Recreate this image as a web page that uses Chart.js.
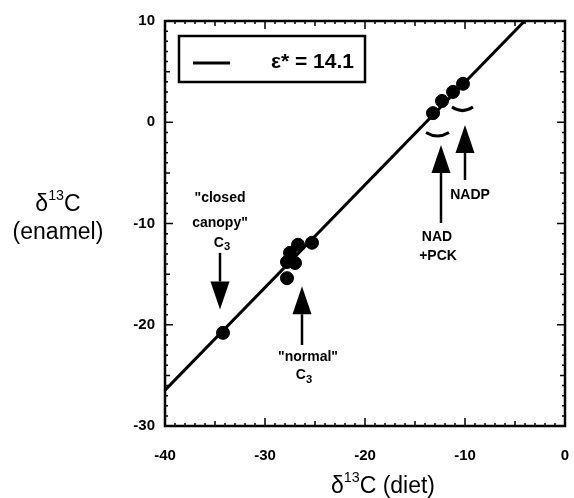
<!DOCTYPE html>
<html lang="en">
<head>
<meta charset="UTF-8">
<title>δ13C enamel vs diet</title>
<script src="https://cdn.jsdelivr.net/npm/chart.js@4"></script>
<style>
  body { margin:0; background:#fff; }
  #wrap { width:574px; height:498px; position:relative; }
</style>
</head>
<body>
<div id="wrap"><canvas id="c"></canvas></div>
<script>
// values
const dietX   = [-34.2,-27.8,-27.8,-27.0,-27.5,-26.7,-25.3,-13.2,-12.3,-11.2,-10.2];
const enamelY = [-20.8,-15.4,-13.8,-13.9,-12.9,-12.1,-11.9,0.9,2.1,3.0,3.8];
const fitX = [-40,-4.04];
const fitY = [-26.46,10];
const legendLabel = "ε* = 14.1";
const xTitle = "δ^13C (diet)";
const yTitle = ["δ^13C","(enamel)"];
// arrows: x, tail y, tip y (data units)
const arrowX    = [-34.5,-26.3,-12.4,-10.0];
const arrowFrom = [-12.9,-22.0,-9.95,-5.7];
const arrowTo   = [-18.5,-16.2,-2.25,-0.27];
// little brackets under the C4 groups
const brX0 = [-13.9,-11.3], brX1 = [-11.6,-9.2], brY = [-1.3,1.2];
// annotation text
const noteText = ['"closed','canopy"','C_3','"normal"','C_3','NAD','+PCK','NADP'];
const noteX    = [-34.5,-34.5,-34.3,-25.7,-26.1,-12.8,-12.7,-9.5];
const noteY    = [-7.5,-9.95,-11.9,-23.2,-25.0,-11.3,-13.2,-7.2];

const FONT = "'Liberation Sans', Arial, sans-serif";
Chart.defaults.font.family = FONT;
Chart.defaults.color = "#000";

// text with ^sup and _sub pieces, centred on x
function rich(ctx, str, x, y, size, weight){
  const parts = str.split(/(\^\d+|_\d+)/).filter(s=>s);
  const segs = parts.map(p=>{
    if(p[0]==='^') return {t:p.slice(1), s:size*0.62, dy:-size*0.38};
    if(p[0]==='_') return {t:p.slice(1), s:size*0.8, dy:size*0.3};
    return {t:p, s:size, dy:0};
  });
  let w=0;
  segs.forEach(g=>{ ctx.font=`${weight} ${g.s}px ${FONT}`; g.w=ctx.measureText(g.t).width; w+=g.w; });
  let cx = x - w/2;
  ctx.textAlign='left'; ctx.textBaseline='middle';
  segs.forEach(g=>{ ctx.font=`${weight} ${g.s}px ${FONT}`; ctx.fillText(g.t, cx, y+g.dy); cx+=g.w; });
}

const deco = {
  id:'deco',
  afterDraw(chart){
    const {ctx, chartArea:a, scales:{x, y}} = chart;
    ctx.save();
    ctx.fillStyle='#000'; ctx.strokeStyle='#000';
    // frame
    ctx.lineWidth=2.5;
    ctx.strokeRect(a.left, a.top, a.right-a.left, a.bottom-a.top);
    // inward ticks all round
    ctx.lineWidth=1.5;
    ctx.beginPath();
    for(let v=-40; v<=0; v++){
      const L = v%10===0 ? 8 : (v%5===0 ? 5 : 3), px = x.getPixelForValue(v);
      ctx.moveTo(px, a.bottom); ctx.lineTo(px, a.bottom-L);
      ctx.moveTo(px, a.top); ctx.lineTo(px, a.top+L);
    }
    for(let v=-30; v<=10; v++){
      const L = v%10===0 ? 8 : (v%5===0 ? 5 : 3), py = y.getPixelForValue(v);
      ctx.moveTo(a.left, py); ctx.lineTo(a.left+L, py);
      ctx.moveTo(a.right, py); ctx.lineTo(a.right-L, py);
    }
    ctx.stroke();
    // axis titles
    rich(ctx, xTitle, (a.left+a.right)/2+18, 487, 23, 'normal');
    rich(ctx, yTitle[0], 58, 205, 23, 'normal');
    rich(ctx, yTitle[1], 58, 233, 23, 'normal');
    // arrows
    arrowX.forEach((v,i)=>{
      const px = x.getPixelForValue(v), p0 = y.getPixelForValue(arrowFrom[i]), p1 = y.getPixelForValue(arrowTo[i]);
      const dir = p1>p0 ? 1 : -1, head = 28, hw = 9.5;
      ctx.lineWidth=2.5;
      ctx.beginPath(); ctx.moveTo(px,p0); ctx.lineTo(px,p1-dir*head); ctx.stroke();
      ctx.beginPath(); ctx.moveTo(px,p1); ctx.lineTo(px-hw,p1-dir*head); ctx.lineTo(px+hw,p1-dir*head); ctx.closePath(); ctx.fill();
    });
    // brackets
    ctx.lineWidth=3;
    brX0.forEach((v,i)=>{
      const x0 = x.getPixelForValue(v), x1 = x.getPixelForValue(brX1[i]), py = y.getPixelForValue(brY[i]);
      ctx.beginPath(); ctx.moveTo(x0, py-3); ctx.quadraticCurveTo((x0+x1)/2, py+4, x1, py-3); ctx.stroke();
    });
    // notes
    noteText.forEach((t,i)=>{
      rich(ctx, t, x.getPixelForValue(noteX[i]), y.getPixelForValue(noteY[i]), 14, 'bold');
    });
    // legend box
    const lx = a.left+14, ly = a.top+15;
    ctx.fillStyle='#fff';
    ctx.fillRect(lx, ly, 186, 46);
    ctx.fillStyle='#000';
    ctx.lineWidth=2.5;
    ctx.strokeRect(lx, ly, 186, 46);
    ctx.lineWidth=3;
    ctx.beginPath(); ctx.moveTo(lx+14, ly+27); ctx.lineTo(lx+51, ly+27); ctx.stroke();
    ctx.font=`bold 21px ${FONT}`; ctx.textAlign='left'; ctx.textBaseline='middle';
    ctx.fillText(legendLabel, lx+92, ly+26);
    ctx.restore();
  }
};

new Chart(document.getElementById('c'), {
  type:'scatter',
  data:{
    datasets:[
      { label:legendLabel, data:fitX.map((v,i)=>({x:v, y:fitY[i]})), showLine:true,
        borderColor:'#000', borderWidth:3, pointRadius:0 },
      { label:'samples', data:dietX.map((v,i)=>({x:v, y:enamelY[i]})),
        backgroundColor:'#000', borderColor:'#000', pointRadius:6.5, pointHoverRadius:6.5 }
    ]
  },
  options:{
    responsive:true, maintainAspectRatio:false, animation:false,
    layout:{ padding:{ left:0, right:9, top:21, bottom:0 } },
    plugins:{ legend:{display:false}, tooltip:{enabled:false} },
    scales:{
      x:{ type:'linear', min:-40, max:0,
        grid:{display:false, drawTicks:false}, border:{display:false},
        ticks:{ stepSize:10, padding:21, font:{size:15, weight:'bold'}, maxRotation:0 },
        afterFit(s){ s.height = 72; s.paddingLeft = 0; s.paddingRight = 0; } },
      y:{ type:'linear', min:-30, max:10,
        grid:{display:false, drawTicks:false}, border:{display:false},
        ticks:{ stepSize:10, padding:10, font:{size:15, weight:'bold'} },
        afterFit(s){ s.width = 165; } }
    }
  },
  plugins:[deco]
});
</script>
</body>
</html>
